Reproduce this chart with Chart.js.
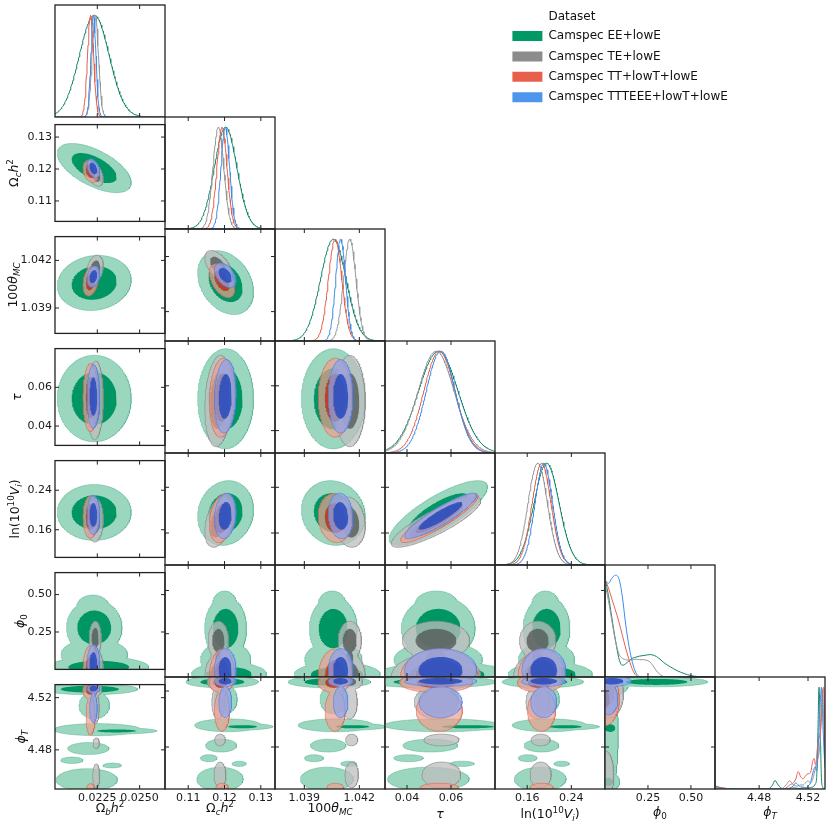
<!DOCTYPE html>
<html><head><meta charset="utf-8">
<script src="https://cdn.jsdelivr.net/npm/chart.js@4.4.1/dist/chart.umd.min.js"></script>
<style>
html,body{margin:0;padding:0;background:#fff;}
#fig{position:relative;width:830px;height:831px;overflow:hidden;background:#fff;}
#fig canvas{position:absolute;}
</style></head><body><div id="fig"></div>
<script>
// ================= DATA =================
const DATASET_NAMES = ['Camspec EE+lowE','Camspec TE+lowE','Camspec TT+lowT+lowE','Camspec TTTEEE+lowT+lowE'];
const LEGEND_TITLE = 'Dataset';
const AXIS_LABELS = ['Ω_bh^2','Ω_ch^2','100θ_{MC}','τ','\\ln(10^{10}V_i)','ϕ_0','ϕ_T'];
// axis ranges (columns = x, rows = y)
const X_MIN = [0.0200, 0.1036, 1.0374, 0.030, 0.1016, 0.0, 4.4439];
const X_MAX = [0.0265, 0.1339, 1.0434, 0.080, 0.3010, 0.64, 4.5339];
const Y_MIN = [null, 0.1036, 1.0374, 0.030, 0.104, 0.0, 4.450];
const Y_MAX = [null, 0.1339, 1.0435, 0.080, 0.300, 0.647, 4.530];
const TICK_VALUES = [[0.0225,0.025],[0.11,0.12,0.13],[1.039,1.042],[0.04,0.06],[0.16,0.24],[0.25,0.5],[4.48,4.52]];
const TICK_TEXT = [['0.0225','0.0250'],['0.11','0.12','0.13'],['1.039','1.042'],['0.04','0.06'],['0.16','0.24'],['0.25','0.50'],['4.48','4.52']];

// means and widths of the five near-gaussian parameters (Ωbh², Ωch², 100θ, τ, ln10¹⁰V)
const MEAN_EE     = [0.02232, 0.1203, 1.04058, 0.0542, 0.195];
const SIGMA_EE    = [0.00088, 0.0031, 0.00070, 0.0090, 0.0228];
const MEAN_TE     = [0.02238, 0.1183, 1.04148, 0.0532, 0.179];
const SIGMA_TE    = [0.00019, 0.0015, 0.00034, 0.0082, 0.0177];
const MEAN_TT     = [0.02210, 0.1193, 1.04068, 0.0547, 0.186];
const SIGMA_TT    = [0.00018, 0.0014, 0.00037, 0.0071, 0.0172];
const MEAN_TTTEEE = [0.02227, 0.1202, 1.04098, 0.0553, 0.190];
const SIGMA_TTTEEE= [0.00015, 0.0012, 0.00027, 0.0066, 0.0160];
// correlations for pairs (0,1)(0,2)(0,3)(0,4)(1,2)(1,3)(1,4)(2,3)(2,4)(3,4)
const CORR_EE     = [-0.60, 0.10, 0.00, 0.00, -0.30, 0.00, 0.10, 0.00, -0.10, 0.80];
const CORR_TE     = [-0.40, 0.20, 0.05, 0.05, -0.55, 0.15, 0.35, 0.00, -0.15, 0.85];
const CORR_TT     = [-0.30, 0.25, 0.00, 0.00, -0.50, 0.10, 0.25, 0.00, -0.10, 0.90];
const CORR_TTTEEE = [-0.40, 0.25, 0.00, 0.00, -0.45, 0.10, 0.15, 0.00, -0.10, 0.90];

// φ0 row blobs: [x offset (in σ of x param), φ0 centre, x width (σ units), φ0 width, height]
const PHI0_BLOBS_EE = [[0.0,0.28,0.75,0.075,1.0],[0.3,0.015,1.35,0.028,1.0],[0.0,0.10,1.3,0.06,0.2],[-0.1,0.42,0.7,0.05,0.15]];
const PHI0_BLOBS_TE = [[0.0,0.21,0.75,0.045,1.0],[0.0,0.0,1.0,0.055,1.0],[0.0,0.11,0.6,0.04,0.5]];
const PHI0_BLOBS_TT = [[0.0,0.0,1.0,0.065,1.0]];
const PHI0_BLOBS_TTTEEE = [[0.0,0.04,1.0,0.05,1.0]];
// φT row blobs: [x offset (σ), φT centre, x width (σ), φT width, height]
const PHIT_BLOBS_EE = [[-0.3,4.5265,1.3,0.0017,1.0],[0.0,4.514,0.6,0.006,0.2],[0.2,4.4955,1.6,0.0025,0.25],[1.5,4.4945,1.2,0.0010,0.6],
                       [-0.4,4.481,0.9,0.003,0.15],[-0.5,4.457,1.2,0.005,0.2],[1.2,4.468,0.5,0.0015,0.1],[-1.5,4.472,0.6,0.002,0.1]];
const PHIT_BLOBS_TE = [[0.0,4.5265,0.9,0.0025,0.6],[0.0,4.512,0.7,0.007,0.2],[0.3,4.485,0.7,0.003,0.12],[0.3,4.46,0.7,0.006,0.15]];
const PHIT_BLOBS_TT = [[-0.2,4.526,1.0,0.003,0.7],[0.0,4.506,0.8,0.008,0.25],[0.0,4.451,0.8,0.002,0.15]];
const PHIT_BLOBS_TTTEEE = [[0.0,4.527,1.0,0.0015,1.0],[0.0,4.512,0.8,0.006,0.25]];
// φ0–φT panel blobs: [φ0 centre, φ0 width, φT centre, φT width, height]
const PHI0PHIT_BLOBS_EE = [[0.30,0.12,4.5265,0.0014,1.0],[0.0,0.045,4.49,0.03,0.2],[0.03,0.02,4.4935,0.0018,1.0],[0.02,0.03,4.455,0.003,0.5],[0.03,0.05,4.525,0.004,0.5]];
const PHI0PHIT_BLOBS_TE = [[0.02,0.04,4.518,0.008,0.5],[0.0,0.03,4.46,0.01,0.2]];
const PHI0PHIT_BLOBS_TT = [[0.0,0.04,4.514,0.009,0.4]];
const PHI0PHIT_BLOBS_TTTEEE = [[0.04,0.045,4.527,0.0015,1.0],[0.02,0.03,4.514,0.006,0.25]];

// 1D marginal of φ0 (read at these φ0 values)
const PHI0_X = [0,0.02,0.04,0.06,0.08,0.10,0.12,0.14,0.16,0.18,0.20,0.22,0.24,0.26,0.28,0.30,0.32,0.34,0.36,0.38,0.40,0.42,0.44,0.46,0.48,0.50,0.52,0.54,0.56,0.60,0.64];
const PHI0_P_EE = [0.97,0.80,0.58,0.37,0.19,0.115,0.13,0.16,0.185,0.195,0.205,0.21,0.215,0.22,0.215,0.20,0.175,0.145,0.12,0.10,0.08,0.062,0.047,0.034,0.023,0.014,0.008,0.004,0.001,0,0];
const PHI0_P_TE = [0.91,0.75,0.55,0.36,0.23,0.185,0.17,0.165,0.17,0.175,0.17,0.17,0.165,0.15,0.11,0.06,0.025,0.005,0,0,0,0,0,0,0,0,0,0,0,0,0];
const PHI0_P_TT = [0.96,0.875,0.766,0.66,0.547,0.416,0.285,0.17,0.072,0.016,0,0,0,0,0,0,0,0,0,0,0,0,0,0,0,0,0,0,0,0,0];
const PHI0_P_TTTEEE = [0.95,0.92,0.97,1.0,0.97,0.80,0.52,0.30,0.14,0.04,0.005,0,0,0,0,0,0,0,0,0,0,0,0,0,0,0,0,0,0,0,0];
// 1D marginal of φT
const PHIT_X = [4.444,4.450,4.460,4.470,4.480,4.488,4.491,4.493,4.495,4.498,4.502,4.505,4.508,4.510,4.512,4.514,4.516,4.518,4.520,4.522,4.524,4.525,4.526,4.527,4.528,4.529,4.530,4.531,4.532,4.533,4.534];
const PHIT_P_EE = [0.03,0.01,0,0,0,0.005,0.04,0.085,0.05,0.01,0,0.005,0.01,0.01,0.005,0.005,0.01,0.01,0.01,0.015,0.02,0.03,0.05,0.10,0.50,1.0,0.60,0.10,0.02,0,0];
const PHIT_P_TE = [0.01,0,0,0,0,0,0,0,0,0,0.04,0.08,0.04,0.03,0.03,0.04,0.04,0.06,0.08,0.06,0.10,0.15,0.20,0.25,0.30,0.35,0.50,0.80,0.98,0.60,0.30];
const PHIT_P_TT = [0.02,0.01,0,0,0,0,0,0,0,0,0.01,0.04,0.06,0.10,0.17,0.12,0.10,0.13,0.15,0.16,0.28,0.30,0.24,0.30,0.45,0.50,0.55,0.70,0.95,1.0,0.30];
const PHIT_P_TTTEEE = [0.01,0,0,0,0,0,0,0,0,0,0,0.01,0.03,0.06,0.04,0.02,0.02,0.01,0.03,0.06,0.16,0.20,0.22,0.18,0.30,0.60,0.85,1.0,0.70,0.40,0.20];

// ================= STYLE =================
const FILL_LIGHT = ['#9bd6bf','rgba(190,190,190,0.75)','rgba(236,160,145,0.70)','rgba(140,165,235,0.72)'];
const FILL_DARK  = ['#009664','rgba(85,90,88,0.80)','rgba(185,45,20,0.80)','rgba(30,70,190,0.80)'];
const EDGE_LIGHT = ['rgba(0,140,95,0.35)','rgba(140,140,140,0.9)','rgba(220,100,80,0.8)','rgba(80,130,230,0.8)'];
const LINE_COLORS = ['#14866a','#969696','#e8604c','#3d8be8'];
const LEGEND_COLORS = ['#009966','#8c8c8c','#e8604c','#4d96eb'];
const FONT = '"DejaVu Sans"';
const PW = 110, PH = 112, X0 = 55, Y0 = 5, NP = 7, AXW = 55, AXH = 42, PAD = 2;
const TITLE_SIZE = 12.5;
const X_TITLE_BASE = [812, 812, 812, 818, 818, 815.5, 815.5];
const Y_TITLE_BASE = [0, 18, 17, 21, 19, 24, 24.5];

// ================= helpers =================
const MEANS = [MEAN_EE, MEAN_TE, MEAN_TT, MEAN_TTTEEE];
const SIGMAS = [SIGMA_EE, SIGMA_TE, SIGMA_TT, SIGMA_TTTEEE];
const CORRS = [CORR_EE, CORR_TE, CORR_TT, CORR_TTTEEE];
const PHI0_BLOBS = [PHI0_BLOBS_EE, PHI0_BLOBS_TE, PHI0_BLOBS_TT, PHI0_BLOBS_TTTEEE];
const PHIT_BLOBS = [PHIT_BLOBS_EE, PHIT_BLOBS_TE, PHIT_BLOBS_TT, PHIT_BLOBS_TTTEEE];
const PHI0PHIT_BLOBS = [PHI0PHIT_BLOBS_EE, PHI0PHIT_BLOBS_TE, PHI0PHIT_BLOBS_TT, PHI0PHIT_BLOBS_TTTEEE];
const PHI0_P = [PHI0_P_EE, PHI0_P_TE, PHI0_P_TT, PHI0_P_TTTEEE];
const PHIT_P = [PHIT_P_EE, PHIT_P_TE, PHIT_P_TT, PHIT_P_TTTEEE];
const PAIRS = [[0,1],[0,2],[0,3],[0,4],[1,2],[1,3],[1,4],[2,3],[2,4],[3,4]];
const LEVEL_1S = Math.exp(-0.5*2.2958), LEVEL_2S = Math.exp(-0.5*6.1801);

function corr(d, i, j) {
  const k = PAIRS.findIndex(p => p[0] === Math.min(i,j) && p[1] === Math.max(i,j));
  return CORRS[d][k];
}
function components(d, r, c) {
  const M = MEANS[d], S = SIGMAS[d];
  if (r <= 4) return [{cx:M[c], cy:M[r], sx:S[c], sy:S[r], rho:corr(d,c,r), a:1}];
  if (c === 5) return PHI0PHIT_BLOBS[d].map(k => ({cx:k[0], sx:k[1], cy:k[2], sy:k[3], rho:0, a:k[4]}));
  const list = r === 5 ? PHI0_BLOBS[d] : PHIT_BLOBS[d];
  return list.map(k => ({cx:M[c] + k[0]*S[c], sx:k[2]*S[c], cy:k[1], sy:k[3], rho:0, a:k[4]}));
}
const GX = PW, GY = PH;
function densityGrid(comps, x0, x1, y0, y1) {
  const W = GX + 3, H = GY + 3, G = new Float32Array(W*H);
  const pre = comps.map(k => Object.assign({inv: 1/(1 - k.rho*k.rho)}, k));
  for (let j = 1; j < H-1; j++) {
    const y = y0 + (j-1)/GY*(y1-y0);
    for (let i = 1; i < W-1; i++) {
      const x = x0 + (i-1)/GX*(x1-x0);
      let best = 0;
      for (const k of pre) {
        const u = (x-k.cx)/k.sx, v = (y-k.cy)/k.sy;
        const q = (u*u - 2*k.rho*u*v + v*v)*k.inv;
        if (q > 30) continue;
        const val = k.a*Math.exp(-0.5*q);
        if (val > best) best = val;
      }
      G[j*W+i] = best;
    }
  }
  return {G, W, H, x0, x1, y0, y1};
}
function contourLoops(grid, level) {
  const {G, W, H} = grid;
  const NE = 2*W*H;
  const adj = new Int32Array(NE*2).fill(-1);
  const px = new Float64Array(NE), py = new Float64Array(NE);
  const segA = [], segB = [];
  const eH = (i,j) => { const id = j*W+i; const a = G[id], b = G[id+1]; px[id] = i + (level-a)/(b-a); py[id] = j; return id; };
  const eV = (i,j) => { const id = W*H + j*W + i; const a = G[j*W+i], b = G[(j+1)*W+i]; px[id] = i; py[id] = j + (level-a)/(b-a); return id; };
  const add = (e1, e2) => { const s = segA.length; segA.push(e1); segB.push(e2);
    if (adj[e1*2] < 0) adj[e1*2] = s; else adj[e1*2+1] = s;
    if (adj[e2*2] < 0) adj[e2*2] = s; else adj[e2*2+1] = s; };
  for (let j = 0; j < H-1; j++) for (let i = 0; i < W-1; i++) {
    const v0 = G[j*W+i], v1 = G[j*W+i+1], v2 = G[(j+1)*W+i+1], v3 = G[(j+1)*W+i];
    const code = (v0>=level?1:0)|(v1>=level?2:0)|(v2>=level?4:0)|(v3>=level?8:0);
    if (code === 0 || code === 15) continue;
    const B = () => eH(i,j), T = () => eH(i,j+1), L = () => eV(i,j), R = () => eV(i+1,j);
    const centre = (v0+v1+v2+v3)/4 >= level;
    switch (code) {
      case 1: case 14: add(L(), B()); break;
      case 2: case 13: add(B(), R()); break;
      case 3: case 12: add(L(), R()); break;
      case 4: case 11: add(R(), T()); break;
      case 6: case 9: add(B(), T()); break;
      case 7: case 8: add(L(), T()); break;
      case 5: if (centre) { add(L(), T()); add(B(), R()); } else { add(L(), B()); add(R(), T()); } break;
      case 10: if (centre) { add(L(), B()); add(R(), T()); } else { add(B(), R()); add(L(), T()); } break;
    }
  }
  const used = new Uint8Array(segA.length), loops = [];
  for (let s = 0; s < segA.length; s++) {
    if (used[s]) continue;
    used[s] = 1;
    const start = segA[s]; let cur = segB[s], prev = s; const loop = [start]; let guard = 0;
    while (cur !== start && guard++ < 200000) {
      loop.push(cur);
      const n = adj[cur*2] === prev ? adj[cur*2+1] : adj[cur*2];
      if (n < 0 || used[n]) break;
      used[n] = 1; prev = n;
      cur = segA[n] === cur ? segB[n] : segA[n];
    }
    loop.push(start);
    loops.push(loop.map(e => [px[e], py[e]]));
  }
  return loops;
}
function contourData(grid, level) {
  const pts = [];
  for (const loop of contourLoops(grid, level)) {
    for (const [gx, gy] of loop) pts.push({x: grid.x0 + (gx-1)/GX*(grid.x1-grid.x0), y: grid.y0 + (gy-1)/GY*(grid.y1-grid.y0)});
    pts.push({x: null, y: null});
  }
  return pts;
}
function twoDDatasets(r, c) {
  const out = [];
  for (let d = 0; d < 4; d++) {
    const grid = densityGrid(components(d, r, c), X_MIN[c], X_MAX[c], Y_MIN[r], Y_MAX[r]);
    out.push({label: DATASET_NAMES[d] + ' 95%', data: contourData(grid, LEVEL_2S), showLine: true, fill: 'shape',
      backgroundColor: FILL_LIGHT[d], borderColor: EDGE_LIGHT[d], borderWidth: 0.7, pointRadius: 0, tension: 0, clip: 0, spanGaps: false});
    out.push({label: DATASET_NAMES[d] + ' 68%', data: contourData(grid, LEVEL_1S), showLine: true, fill: 'shape',
      backgroundColor: FILL_DARK[d], borderColor: 'rgba(0,0,0,0)', borderWidth: 0, pointRadius: 0, tension: 0, clip: 0, spanGaps: false});
  }
  return out.reverse();
}
function oneDDatasets(c) {
  const out = [];
  for (let d = 0; d < 4; d++) {
    let data;
    if (c <= 4) {
      const m = MEANS[d][c], s = SIGMAS[d][c]; data = [];
      for (let k = 0; k <= 220; k++) { const x = X_MIN[c] + k/220*(X_MAX[c]-X_MIN[c]); data.push({x, y: Math.exp(-0.5*((x-m)/s)**2)}); }
    } else if (c === 5) data = PHI0_X.map((x, k) => ({x, y: PHI0_P[d][k]}));
    else data = PHIT_X.map((x, k) => ({x, y: PHIT_P[d][k]}));
    out.push({label: DATASET_NAMES[d], data, showLine: true, fill: false, borderColor: LINE_COLORS[d], borderWidth: 1,
      pointRadius: 0, tension: c >= 5 ? 0.4 : 0, cubicInterpolationMode: c >= 5 ? 'monotone' : 'default', clip: 0});
  }
  return out.reverse();
}
function parseLabel(s) {
  const parts = []; let i = 0; const isIt = ch => /[a-zA-Zα-ωϕ]/.test(ch);
  while (i < s.length) {
    const ch = s[i];
    if (ch === '\\') { let j = i+1; while (j < s.length && /[a-z]/i.test(s[j])) j++; parts.push({t: s.slice(i+1, j), it: false, lvl: 0}); i = j; continue; }
    if (ch === '_' || ch === '^') {
      const lvl = ch === '_' ? -1 : 1; i++; let grp;
      if (s[i] === '{') { const j = s.indexOf('}', i); grp = s.slice(i+1, j); i = j+1; } else { grp = s[i]; i++; }
      parts.push({t: grp, it: isIt(grp[0]), lvl}); continue;
    }
    parts.push({t: ch, it: isIt(ch), lvl: 0}); i++;
  }
  return parts;
}
function fontFor(p, size) { return (p.it ? 'italic ' : '') + (p.lvl ? size*0.7 : size) + 'px ' + FONT; }
function drawRich(ctx, parts, cx, base, size) {
  let w = 0;
  for (const p of parts) { ctx.font = fontFor(p, size); w += ctx.measureText(p.t).width; }
  let x = cx - w/2;
  ctx.textAlign = 'left'; ctx.textBaseline = 'alphabetic';
  for (const p of parts) {
    ctx.font = fontFor(p, size);
    const dy = p.lvl === -1 ? size*0.25 : (p.lvl === 1 ? -size*0.42 : 0);
    ctx.fillText(p.t, x, base + dy);
    x += ctx.measureText(p.t).width;
  }
}
function framePlugin(xTicks, yTicks) {
  return {id: 'frame', afterDraw(chart) {
    const {ctx, chartArea: a, scales} = chart; const tl = 4;
    ctx.save(); ctx.strokeStyle = '#222'; ctx.lineWidth = 1; ctx.beginPath();
    for (const v of xTicks) { const p = scales.x.getPixelForValue(v);
      ctx.moveTo(p, a.bottom); ctx.lineTo(p, a.bottom - tl); ctx.moveTo(p, a.top); ctx.lineTo(p, a.top + tl); }
    if (yTicks) for (const v of yTicks) { const p = scales.y.getPixelForValue(v);
      ctx.moveTo(a.left, p); ctx.lineTo(a.left + tl, p); ctx.moveTo(a.right, p); ctx.lineTo(a.right - tl, p); }
    ctx.stroke();
    ctx.lineWidth = 1.3; ctx.strokeRect(a.left, a.top, a.right - a.left, a.bottom - a.top);
    ctx.restore();
  }};
}
function titlePlugin(xSpec, ySpec) {
  return {id: 'richTitles', afterDraw(chart) {
    const {ctx, chartArea: a} = chart;
    ctx.save(); ctx.fillStyle = '#111';
    if (xSpec) drawRich(ctx, xSpec.parts, (a.left + a.right)/2, xSpec.base, TITLE_SIZE);
    if (ySpec) { ctx.translate(ySpec.base, (a.top + a.bottom)/2); ctx.rotate(-Math.PI/2); drawRich(ctx, ySpec.parts, 0, 0, TITLE_SIZE); }
    ctx.restore();
  }};
}
function axisOpts(min, max, p, show, axis) {
  const o = {type: 'linear', min, max, display: show, position: axis === 'x' ? 'bottom' : 'left',
    grid: {display: false, drawTicks: false}, border: {display: false}, title: {display: false},
    afterBuildTicks: s => { s.ticks = TICK_VALUES[p].map(v => ({value: v})); },
    ticks: {autoSkip: false, maxRotation: 0, minRotation: 0, padding: 3, color: '#1a1a1a',
      font: {family: 'DejaVu Sans', size: 11},
      callback: v => { const i = TICK_VALUES[p].findIndex(t => Math.abs(t - v) < 1e-9); return i >= 0 ? TICK_TEXT[p][i] : ''; }}};
  if (show) o.afterFit = s => { if (axis === 'x') s.height = AXH; else s.width = AXW; };
  return o;
}
const fig = document.getElementById('fig');
function makeCanvas(left, top, w, h) {
  const cv = document.createElement('canvas');
  cv.width = w; cv.height = h;
  Object.assign(cv.style, {left: left + 'px', top: top + 'px', width: w + 'px', height: h + 'px'});
  fig.appendChild(cv); return cv;
}
Chart.defaults.font.family = 'DejaVu Sans';
const LABEL_PARTS = AXIS_LABELS.map(parseLabel);

for (let r = 0; r < NP; r++) for (let c = 0; c <= r; c++) {
  const hasY = c === 0 && r > 0, hasX = r === NP - 1, diag = r === c;
  const left = X0 + c*PW - (hasY ? AXW : PAD), top = Y0 + r*PH - PAD;
  const w = PW + (hasY ? AXW : PAD) + PAD, h = PH + PAD + (hasX ? AXH : PAD);
  const cv = makeCanvas(left, top, w, h);
  new Chart(cv, {
    type: 'scatter',
    data: {datasets: diag ? oneDDatasets(c) : twoDDatasets(r, c)},
    options: {
      responsive: false, maintainAspectRatio: false, animation: false, events: [],
      layout: {autoPadding: false, padding: {left: hasY ? 0 : PAD, right: PAD, top: PAD, bottom: hasX ? 0 : PAD}},
      elements: {point: {radius: 0, hoverRadius: 0}},
      plugins: {legend: {display: false}, tooltip: {enabled: false}},
      scales: {
        x: axisOpts(X_MIN[c], X_MAX[c], c, hasX, 'x'),
        y: diag ? {type: 'linear', min: 0, max: 1.1, display: false} : axisOpts(Y_MIN[r], Y_MAX[r], r, hasY, 'y')
      }
    },
    plugins: [framePlugin(TICK_VALUES[c], diag ? null : TICK_VALUES[r]),
              titlePlugin(hasX ? {parts: LABEL_PARTS[c], base: X_TITLE_BASE[c] - top} : null,
                          hasY ? {parts: LABEL_PARTS[r], base: Y_TITLE_BASE[r]} : null)]
  });
}

// legend
const LEGEND_FONT_SIZE = 12;
const legendTitlePlugin = {id: 'legendTitle', afterDraw(chart) {
  const lg = chart.legend; if (!lg || !lg.legendHitBoxes || !lg.legendHitBoxes.length) return;
  const hb = lg.legendHitBoxes[0], ctx = chart.ctx;
  ctx.save(); ctx.font = LEGEND_FONT_SIZE + 'px ' + FONT; ctx.fillStyle = '#111'; ctx.textBaseline = 'middle'; ctx.textAlign = 'left';
  ctx.fillText(LEGEND_TITLE, hb.left + 30 + LEGEND_FONT_SIZE/2, 16.7); ctx.restore();
}};
new Chart(makeCanvas(504, 0, 320, 300), {
  type: 'bar',
  data: {labels: [], datasets: DATASET_NAMES.map((n, d) => ({label: n, data: [], backgroundColor: LEGEND_COLORS[d], borderWidth: 0}))},
  options: {responsive: false, animation: false, events: [],
    layout: {padding: {top: 21.6, left: 0, right: 0, bottom: 0}},
    scales: {x: {display: false}, y: {display: false}},
    plugins: {tooltip: {enabled: false},
      legend: {display: true, position: 'top', align: 'start',
        labels: {boxWidth: 30, boxHeight: 10, padding: 8.4, color: '#111', font: {family: 'DejaVu Sans', size: LEGEND_FONT_SIZE}}}}},
  plugins: [legendTitlePlugin]
});
</script></body></html>
